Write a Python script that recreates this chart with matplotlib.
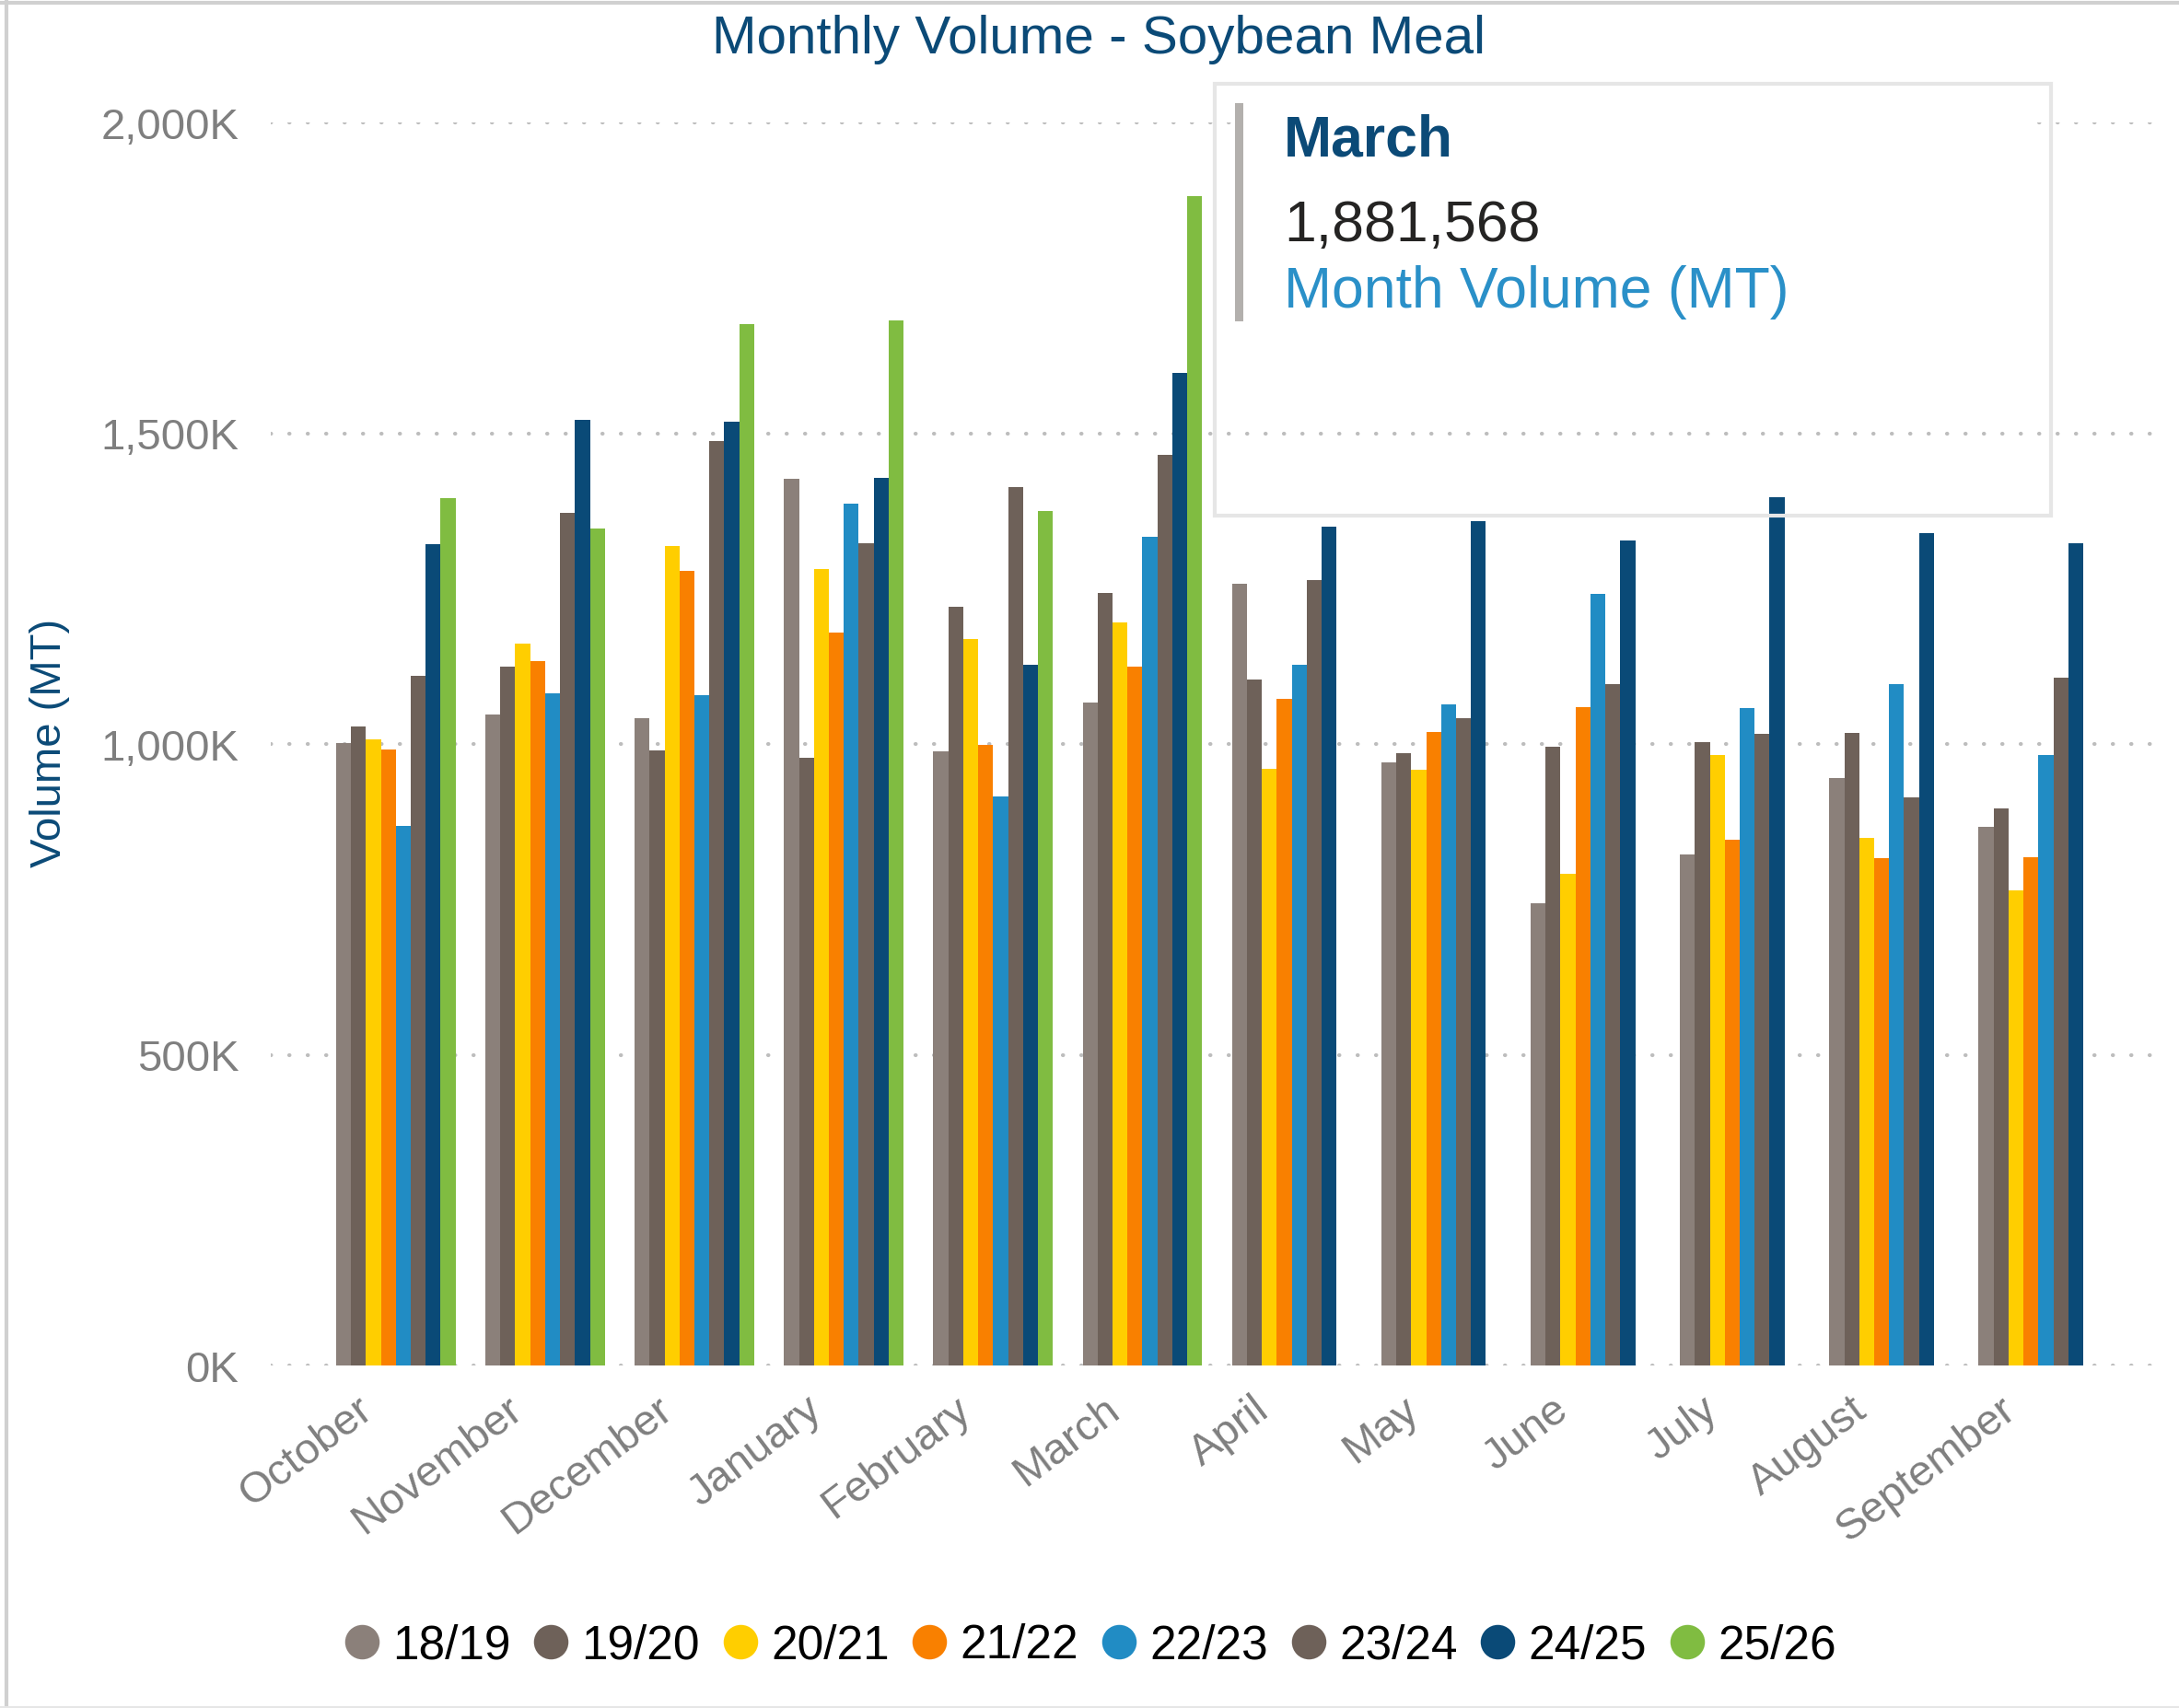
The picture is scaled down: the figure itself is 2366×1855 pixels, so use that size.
import numpy as np
import matplotlib
matplotlib.use("Agg")
import matplotlib.pyplot as plt
from matplotlib.lines import Line2D
from matplotlib.patches import Rectangle
from matplotlib.ticker import FuncFormatter

plt.rcParams['font.family'] = ['Liberation Sans', 'DejaVu Sans']

# ---- data (thousand MT) ----
months = ["October", "November", "December", "January", "February", "March",
          "April", "May", "June", "July", "August", "September"]
seasons = ["18/19", "19/20", "20/21", "21/22", "22/23", "23/24", "24/25", "25/26"]

v1819 = [1001, 1047, 1042, 1426, 988, 1066, 1258, 971, 744, 822, 945, 866]
v1920 = [1028, 1125, 989, 978, 1221, 1243, 1103, 985, 995, 1003, 1018, 897]
v2021 = [1007, 1161, 1319, 1282, 1169, 1195, 960, 959, 791, 982, 849, 765]
v2122 = [991, 1134, 1279, 1180, 998, 1125, 1073, 1020, 1059, 846, 817, 818]
v2223 = [868, 1082, 1079, 1386, 915, 1334, 1128, 1064, 1242, 1058, 1097, 982]
v2324 = [1109, 1372, 1487, 1323, 1414, 1465, 1264, 1042, 1097, 1017, 914, 1106]
v2425 = [1322, 1521, 1518, 1428, 1128, 1597, 1350, 1359, 1327, 1397, 1340, 1323]
v2526 = [1396, 1347, 1676, 1681, 1375, 1881.568, None, None, None, None, None, None]

series = [v1819, v1920, v2021, v2122, v2223, v2324, v2425, v2526]
colors = ["#8b807a", "#6e6159", "#ffce00", "#f98000", "#218cc4", "#6e6159", "#0a4a77", "#80bc41"]

W, H = 2366, 1856
def fx(x):
    return x / W
def fy(y):
    return 1 - y / H

fig = plt.figure(figsize=(W / 100, H / 100), dpi=100)
ax = fig.add_axes([fx(294), fy(1484), fx(2345) - fx(294), fy(134) - fy(1484)])

x = np.arange(len(months))
bw = 0.1
for j, (vals, c) in enumerate(zip(series, colors)):
    h = np.array([np.nan if v is None else v for v in vals], dtype=float)
    ax.bar(x + (j - 3.5) * bw, h, width=bw, color=c, zorder=3, linewidth=0)

ax.set_xlim(-0.837, 11.812)
ax.set_ylim(0, 2000)
ax.set_yticks([0, 500, 1000, 1500, 2000])
ax.yaxis.set_major_formatter(FuncFormatter(lambda v, p: f"{v:,.0f}K"))
ax.tick_params(axis='y', length=0, pad=25, labelsize=34, labelcolor='#7f7f7f')
ax.set_xticks(x - 0.1)
ax.set_xticklabels(months, rotation=37, ha='right', va='top')
ax.tick_params(axis='x', length=0, pad=18, labelsize=34, labelcolor='#7f7f7f')
for s in ax.spines.values():
    s.set_visible(False)
ax.yaxis.grid(True, color='#bdbdbd', linewidth=3, linestyle=(0, (0.1, 4.7)),
              dash_capstyle='round', zorder=0)
ax.set_axisbelow(True)

fig.text(fx(1193), fy(58), "Monthly Volume - Soybean Meal", fontsize=42,
         color='#0b4a77', ha='center', va='baseline')
fig.text(fx(54), fy(807), "Volume (MT)", fontsize=34, color='#0b4a77',
         rotation=90, ha='center', va='center')

# legend
handles = [Line2D([], [], marker='o', linestyle='', markersize=27, color=c,
                  markeredgewidth=0) for c in colors]
fig.legend(handles, seasons, loc='center', bbox_to_anchor=(0.5, fy(1788)), ncol=8,
           frameon=False, fontsize=37, handlelength=0.8, handletextpad=0.25,
           columnspacing=0.45)

# tooltip
fig.patches.append(Rectangle((fx(1348), fy(420)), fx(2212) - fx(1348), fy(100) - fy(420),
                             transform=fig.transFigure, facecolor='white',
                             edgecolor='none', zorder=5))
fig.patches.append(Rectangle((fx(1319), fy(561)), fx(2227) - fx(1319), fy(92) - fy(561),
                             transform=fig.transFigure, facecolor='none',
                             edgecolor='#e6e6e6', linewidth=3, zorder=6))
fig.patches.append(Rectangle((fx(1341), fy(350)), fx(1350) - fx(1341), fy(113) - fy(350),
                             transform=fig.transFigure, facecolor='#b3b0ad',
                             edgecolor='none', zorder=7))
fig.text(fx(1394), fy(170), "March", fontsize=45, fontweight='bold', color='#0b4a77',
         ha='left', va='baseline', zorder=8)
fig.text(fx(1394), fy(262), f"{v2526[5] * 1000:,.0f}", fontsize=45, color='#252423',
         ha='left', va='baseline', zorder=8)
fig.text(fx(1394), fy(334), "Month Volume (MT)", fontsize=45, color='#2a90c8',
         ha='left', va='baseline', zorder=8)

# outer border
fig.add_artist(Line2D([0, 1], [fy(4), fy(4)], transform=fig.transFigure,
                      color='#d0d0d0', linewidth=3))
fig.add_artist(Line2D([fx(7), fx(7)], [0, 1], transform=fig.transFigure,
                      color='#d0d0d0', linewidth=3))
fig.add_artist(Line2D([0, 1], [fy(1855), fy(1855)], transform=fig.transFigure,
                      color='#e6e6e6', linewidth=1.5))

fig.savefig("out.png", dpi=100, facecolor='white')
